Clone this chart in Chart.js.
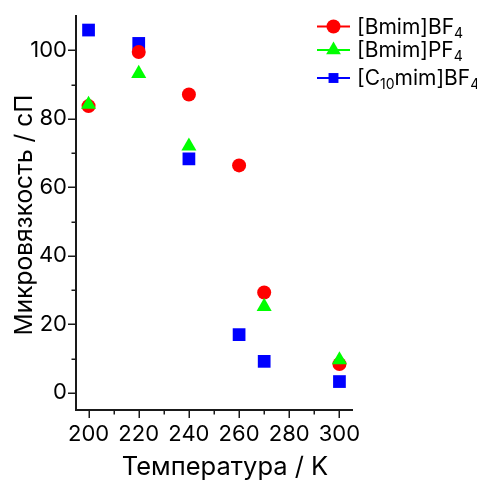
<!DOCTYPE html>
<html><head><meta charset="utf-8">
<script src="https://cdn.jsdelivr.net/npm/chart.js@4.4.1/dist/chart.umd.min.js"></script>
<style>html,body{margin:0;padding:0;background:#fff}#wrap{width:477px;height:482px;position:relative}</style>
</head><body><div id="wrap"><canvas id="c"></canvas></div>
<script>
const temperatures = [200, 220, 240, 260, 270, 300];
const bmimBF4 = [83.7, 99.5, 87.1, 66.4, 29.3, 8.4];
const bmimPF4 = [84.2, 93.2, 72.0, null, 25.2, 9.6];
const c10mimBF4 = [105.9, 102.0, 68.3, 17.0, 9.2, 3.3];
const xTickLabels = [200, 220, 240, 260, 280, 300];
const xMinorTicks = [210, 230, 250, 270, 290];
const yTickLabels = [0, 20, 40, 60, 80, 100];
const yMinorTicks = [10, 30, 50, 70, 90];
const seriesNames = ['[Bmim]BF₄', '[Bmim]PF₄', '[C₁₀mim]BF₄'];
const legendParts = [
  [['[Bmim]BF', 0], ['4', 1]],
  [['[Bmim]PF', 0], ['4', 1]],
  [['[C', 0], ['10', 1], ['mim]BF', 0], ['4', 1]]
];
const xTitle = 'Температура / K';
const yTitle = 'Микровязкость / сП';

const FONT = 'Inter';
const AX = '#1a1a1a';

function toPoints(vals) {
  return temperatures.map((t, i) => vals[i] == null ? null : {x: t, y: vals[i]}).filter(p => p);
}

const styles = [
  {color: '#ff0000', style: 'circle', r: 7, lr: 7},
  {color: '#00ff00', style: 'triangle', r: 8.7, lr: 8.5},
  {color: '#0000ff', style: 'rect', r: 9, lr: 7}
];

const tickPlugin = {
  id: 'minorTicks',
  afterDraw(chart) {
    const {ctx, chartArea: a, scales: {x, y}} = chart;
    ctx.save();
    ctx.strokeStyle = AX;
    ctx.lineWidth = 1.5;
    ctx.beginPath();
    yTickLabels.forEach(v => { const p = Math.round(y.getPixelForValue(v)) + 0.25; ctx.moveTo(a.left - 8, p); ctx.lineTo(a.left, p); });
    yMinorTicks.forEach(v => { const p = Math.round(y.getPixelForValue(v)) + 0.25; ctx.moveTo(a.left - 4.5, p); ctx.lineTo(a.left, p); });
    xTickLabels.forEach(v => { const p = Math.round(x.getPixelForValue(v)) + 0.25; ctx.moveTo(p, a.bottom); ctx.lineTo(p, a.bottom + 8); });
    xMinorTicks.forEach(v => { const p = Math.round(x.getPixelForValue(v)) + 0.25; ctx.moveTo(p, a.bottom); ctx.lineTo(p, a.bottom + 4.5); });
    ctx.stroke();

    // axis titles
    ctx.fillStyle = '#000';
    ctx.textAlign = 'center';
    ctx.textBaseline = 'alphabetic';
    ctx.font = '25.5px ' + FONT;
    ctx.fillText(xTitle, 225, 475);
    ctx.save();
    ctx.translate(31.5, 215);
    ctx.rotate(-Math.PI / 2);
    ctx.font = '24.5px ' + FONT;
    ctx.fillText(yTitle, 0, 0);
    ctx.restore();

    // legend
    const rows = [26.5, 50, 78];
    rows.forEach((ry, i) => {
      const s = styles[i];
      ctx.strokeStyle = s.color;
      ctx.lineWidth = 2;
      ctx.beginPath();
      ctx.moveTo(317, ry); ctx.lineTo(350, ry);
      ctx.stroke();
      ctx.fillStyle = s.color;
      Chart.helpers.drawPoint(ctx, {pointStyle: s.style, radius: s.lr, borderWidth: 0, rotation: 0}, 333.5, ry);
      let tx = 357;
      const base = ry + 7;
      ctx.fillStyle = '#000';
      ctx.textBaseline = 'alphabetic';
      ctx.textAlign = 'left';
      legendParts[i].forEach(([t, sub]) => {
        ctx.font = (sub ? '14px ' : '21px ') + FONT;
        ctx.fillText(t, tx, sub ? base + 4 : base);
        tx += ctx.measureText(t).width;
      });
    });
    ctx.restore();
  }
};

new Chart(document.getElementById('c'), {
  type: 'scatter',
  data: {
    datasets: [
      {label: seriesNames[0], data: toPoints(bmimBF4), order: 1},
      {label: seriesNames[1], data: toPoints(bmimPF4), order: 0},
      {label: seriesNames[2], data: toPoints(c10mimBF4), order: 2}
    ].map((d, i) => Object.assign(d, {
      pointStyle: styles[i].style,
      pointRadius: styles[i].r,
      pointHoverRadius: styles[i].r,
      backgroundColor: styles[i].color,
      borderColor: styles[i].color,
      borderWidth: 0,
      showLine: false
    }))
  },
  options: {
    responsive: true,
    maintainAspectRatio: false,
    animation: false,
    devicePixelRatio: 1,
    layout: {padding: {left: 0, top: 16, right: 125, bottom: 0}},
    plugins: {legend: {display: false}, tooltip: {enabled: false}},
    scales: {
      x: {
        type: 'linear', min: 195, max: 305,
        afterBuildTicks: s => { s.ticks = xTickLabels.map(v => ({value: v})); },
        afterFit: s => { s.height = 72; },
        ticks: {font: {family: FONT, size: 22}, color: '#000', padding: 3, maxRotation: 0, autoSkip: false},
        grid: {display: true, drawOnChartArea: false, drawTicks: true, tickLength: 8, tickColor: 'rgba(0,0,0,0)'},
        border: {display: true, color: AX, width: 2},
        title: {display: false}
      },
      y: {
        type: 'linear', min: -5, max: 110,
        afterBuildTicks: s => { s.ticks = yTickLabels.map(v => ({value: v})); },
        afterFit: s => { s.width = 76; },
        ticks: {font: {family: FONT, size: 22}, color: '#000', padding: 1, autoSkip: false},
        grid: {display: true, drawOnChartArea: false, drawTicks: true, tickLength: 8, tickColor: 'rgba(0,0,0,0)'},
        border: {display: true, color: AX, width: 2},
        title: {display: false}
      }
    }
  },
  plugins: [tickPlugin]
});
</script>
</body></html>
